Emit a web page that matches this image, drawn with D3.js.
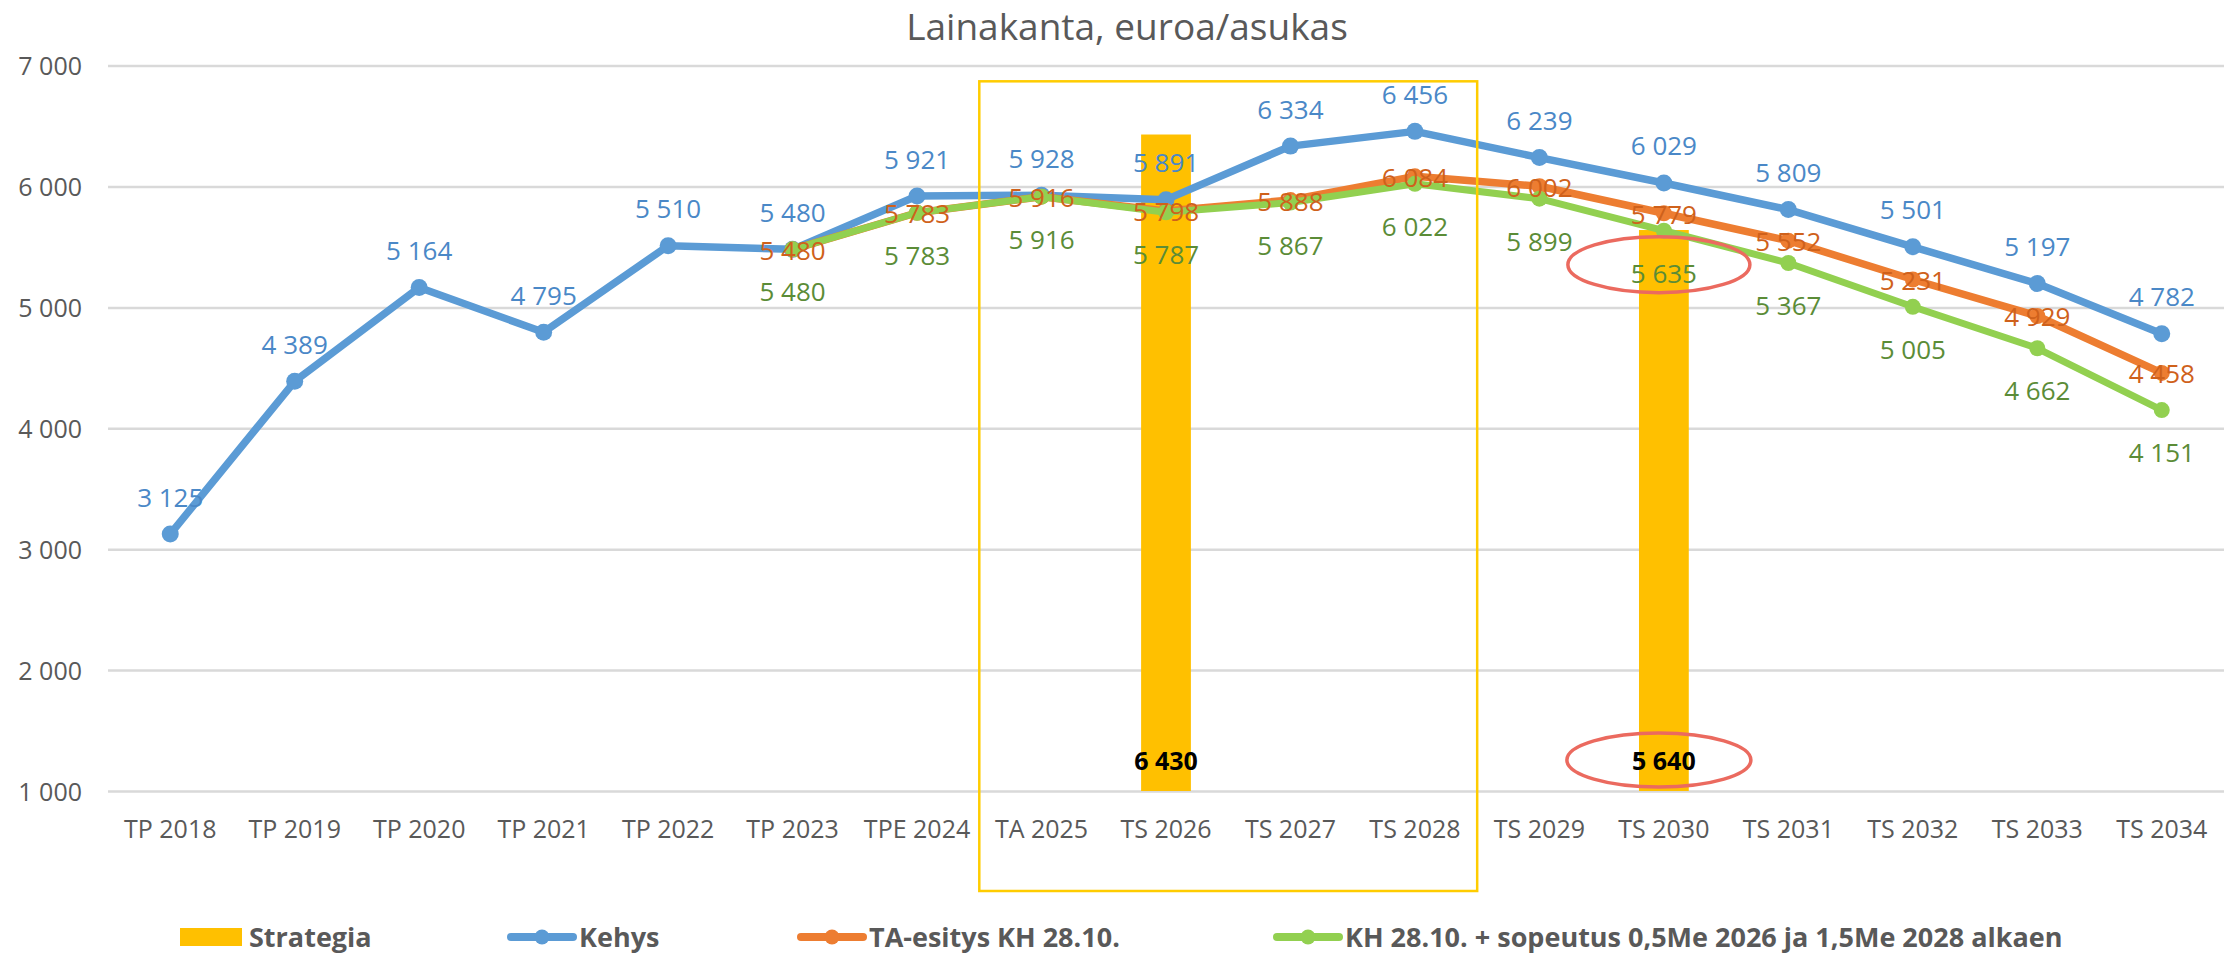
<!DOCTYPE html>
<html>
<head>
<meta charset="utf-8">
<script src="https://cdn.jsdelivr.net/npm/d3@7"></script>
<style>
  body { margin: 0; background: #fff; }
  svg { display: block; }
  text { font-family: "Open Sans", "Noto Sans", sans-serif; }
</style>
</head>
<body>
<div id="wrapper"></div>
<script>
/* DATA */
const categories = [
  "TP 2018", "TP 2019", "TP 2020", "TP 2021", "TP 2022", "TP 2023", "TPE 2024",
  "TA 2025", "TS 2026", "TS 2027", "TS 2028", "TS 2029", "TS 2030", "TS 2031",
  "TS 2032", "TS 2033", "TS 2034",
];
const kehys = [3125, 4389, 5164, 4795, 5510, 5480, 5921, 5928, 5891, 6334, 6456, 6239, 6029, 5809, 5501, 5197, 4782];
const taEsitys = [null, null, null, null, null, 5480, 5783, 5916, 5798, 5888, 6084, 6002, 5779, 5552, 5231, 4929, 4458];
const sopeutus = [null, null, null, null, null, 5480, 5783, 5916, 5787, 5867, 6022, 5899, 5635, 5367, 5005, 4662, 4151];
const strategiaCategories = ["TS 2026", "TS 2030"];
const strategiaValues = [6430, 5640];
const yTicks = [1000, 2000, 3000, 4000, 5000, 6000, 7000];
const seriesNames = ["Strategia", "Kehys", "TA-esitys KH 28.10.", "KH 28.10. + sopeutus 0,5Me 2026 ja 1,5Me 2028 alkaen"];
const title = "Lainakanta, euroa/asukas";
// highlighted period and circled values
const focusCategories = ["TA 2025", "TS 2028"];
const focusTop = 6870;
const circledCategory = "TS 2030";

const colors = {
  strategia: "#FFC000",
  kehys: "#5B9BD5",
  ta: "#ED7D31",
  sop: "#92D050",
  kehysText: "#4A88C7",
  taText: "#CF611B",
  sopText: "#5B8C37",
  axisText: "#595959",
  grid: "#D9D9D9",
  focus: "#FFCC00",
  ellipse: "#EB6A5F",
};

const fmt = d3.formatLocale({ thousands: " ", grouping: [3], decimal: ",", currency: ["", "€"] }).format(",d");

/* DIMENSIONS */
const dimensions = {
  width: 2234,
  height: 956,
  margin: { top: 65.6, right: 10, bottom: 165, left: 108 },
};
dimensions.boundedWidth = dimensions.width - dimensions.margin.left - dimensions.margin.right;
dimensions.boundedHeight = dimensions.height - dimensions.margin.top - dimensions.margin.bottom;

/* SCALES */
const xScale = d3.scaleBand()
  .domain(categories)
  .range([0, dimensions.boundedWidth])
  .padding(0);
const xCenter = (c) => xScale(c) + xScale.bandwidth() / 2;

const yScale = d3.scaleLinear()
  .domain([1000, 7000])
  .range([dimensions.boundedHeight, 0]);

/* DRAW */
const wrapper = d3.select("#wrapper")
  .append("svg")
  .attr("width", dimensions.width)
  .attr("height", dimensions.height);

wrapper.append("text")
  .attr("x", 1127)
  .attr("y", 40)
  .attr("text-anchor", "middle")
  .attr("font-size", 37)
  .attr("fill", colors.axisText)
  .text(title);

const bounds = wrapper.append("g")
  .attr("transform", `translate(${dimensions.margin.left}, ${dimensions.margin.top})`);

// gridlines + y labels
const yAxis = d3.axisLeft(yScale)
  .tickValues(yTicks)
  .tickSize(-dimensions.boundedWidth)
  .tickPadding(26)
  .tickFormat(fmt);
const yAxisG = bounds.append("g").call(yAxis);
yAxisG.select(".domain").remove();
yAxisG.selectAll(".tick line").attr("stroke", colors.grid).attr("stroke-width", 2.5);
yAxisG.selectAll(".tick text")
  .attr("font-size", 25)
  .attr("fill", colors.axisText)
  .attr("dy", "0.36em");

// x labels
const xAxis = d3.axisBottom(xScale).tickSize(0).tickPadding(0);
const xAxisG = bounds.append("g")
  .attr("transform", `translate(0, ${dimensions.boundedHeight})`)
  .call(xAxis);
xAxisG.select(".domain").remove();
xAxisG.selectAll(".tick text")
  .attr("font-size", 25)
  .attr("fill", colors.axisText)
  .attr("dy", 0)
  .attr("y", 47);

// strategia bars
const barWidth = xScale.bandwidth() * 0.4;
const strategia = strategiaCategories.map((c, i) => ({ cat: c, value: strategiaValues[i] }));
bounds.selectAll(".bar")
  .data(strategia)
  .join("rect")
  .attr("class", "bar")
  .attr("x", (d) => xCenter(d.cat) - barWidth / 2)
  .attr("width", barWidth)
  .attr("y", (d) => yScale(d.value))
  .attr("height", (d) => yScale.range()[0] - yScale(d.value))
  .attr("fill", colors.strategia);

// lines
const series = [
  { values: kehys, color: colors.kehys, text: colors.kehysText, width: 7.5, r: 8.5, dy: -27.5 },
  { values: taEsitys, color: colors.ta, text: colors.taText, width: 7.5, r: 8, dy: 10.5 },
  { values: sopeutus, color: colors.sop, text: colors.sopText, width: 7, r: 8, dy: 52 },
];

const lineGenerator = d3.line()
  .defined((d) => d.v != null)
  .x((d) => xCenter(d.c))
  .y((d) => yScale(d.v));

series.forEach((s) => {
  const pts = s.values.map((v, i) => ({ c: categories[i], v }));
  s.pts = pts;
  bounds.append("path")
    .attr("d", lineGenerator(pts))
    .attr("fill", "none")
    .attr("stroke", s.color)
    .attr("stroke-width", s.width)
    .attr("stroke-linejoin", "round")
    .attr("stroke-linecap", "round");
  bounds.append("g")
    .selectAll("circle")
    .data(pts.filter((d) => d.v != null))
    .join("circle")
    .attr("cx", (d) => xCenter(d.c))
    .attr("cy", (d) => yScale(d.v))
    .attr("r", s.r)
    .attr("fill", s.color);
});

// data labels
series.forEach((s) => {
  bounds.append("g")
    .selectAll("text")
    .data(s.pts.filter((d) => d.v != null))
    .join("text")
    .attr("x", (d) => xCenter(d.c))
    .attr("y", (d) => yScale(d.v) + s.dy)
    .attr("text-anchor", "middle")
    .attr("font-size", 26)
    .attr("fill", s.text)
    .text((d) => fmt(d.v));
});

// bar labels (inside base)
bounds.selectAll(".bar-label")
  .data(strategia)
  .join("text")
  .attr("class", "bar-label")
  .attr("x", (d) => xCenter(d.cat))
  .attr("y", dimensions.boundedHeight - 21)
  .attr("text-anchor", "middle")
  .attr("font-size", 25)
  .attr("font-weight", "bold")
  .attr("fill", "#000")
  .text((d) => fmt(d.value));

// focus rectangle
const fx0 = xScale(focusCategories[0]);
const fx1 = xScale(focusCategories[1]) + xScale.bandwidth();
bounds.append("rect")
  .attr("x", fx0)
  .attr("y", yScale(focusTop))
  .attr("width", fx1 - fx0)
  .attr("height", dimensions.boundedHeight + 100 - yScale(focusTop))
  .attr("fill", "none")
  .attr("stroke", colors.focus)
  .attr("stroke-width", 2.5);

// ellipses around circled values
const ci = categories.indexOf(circledCategory);
const ex = xCenter(circledCategory) - 5;
bounds.append("ellipse")
  .attr("cx", ex)
  .attr("cy", yScale(sopeutus[ci]) + 34)
  .attr("rx", 91)
  .attr("ry", 28)
  .attr("fill", "none")
  .attr("stroke", colors.ellipse)
  .attr("stroke-width", 3.5);
bounds.append("ellipse")
  .attr("cx", ex)
  .attr("cy", dimensions.boundedHeight - 31)
  .attr("rx", 92)
  .attr("ry", 27)
  .attr("fill", "none")
  .attr("stroke", colors.ellipse)
  .attr("stroke-width", 3.5);

/* LEGEND */
const legendX = [180, 507, 797, 1273];
const legendY = 937;
const legendColors = [colors.strategia, colors.kehys, colors.ta, colors.sop];
const legend = wrapper.append("g");
seriesNames.forEach((name, i) => {
  const g = legend.append("g").attr("transform", `translate(${legendX[i]}, ${legendY})`);
  let textX;
  if (i === 0) {
    g.append("rect").attr("x", 0).attr("y", -9).attr("width", 62).attr("height", 18).attr("fill", legendColors[i]);
    textX = 69;
  } else {
    g.append("line").attr("x1", 4).attr("x2", 66).attr("y1", 0).attr("y2", 0)
      .attr("stroke", legendColors[i]).attr("stroke-width", 8).attr("stroke-linecap", "round");
    g.append("circle").attr("cx", 35).attr("cy", 0).attr("r", 7.5).attr("fill", legendColors[i]);
    textX = 72;
  }
  g.append("text")
    .attr("x", textX)
    .attr("y", 10)
    .attr("font-size", 27)
    .attr("font-weight", "bold")
    .attr("fill", colors.axisText)
    .text(name);
});
</script>
</body>
</html>
